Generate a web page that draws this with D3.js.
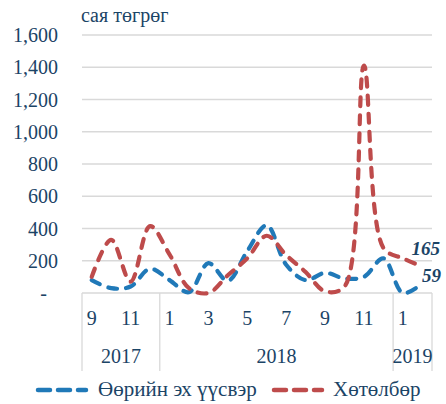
<!DOCTYPE html>
<html>
<head>
<meta charset="utf-8">
<script src="https://cdn.jsdelivr.net/npm/d3@7"></script>
<style>
  body { margin: 0; background: #fff; }
  text { font-family: 'Liberation Serif', 'Times New Roman', serif; fill: #1b4466; }
</style>
</head>
<body>
<svg id="chart" width="446" height="404"></svg>
<script>
// months Sep 2017 .. Feb 2019
const months = ['9', '10', '11', '12', '1', '2', '3', '4', '5', '6', '7', '8', '9', '10', '11', '12', '1', '2'];
const years = [
  { label: '2017', from: 0, to: 4 },
  { label: '2018', from: 4, to: 16 },
  { label: '2019', from: 16, to: 18 },
];
const ownSource = [80, 30, 40, 150, 80, 5, 185, 75, 260, 420, 175, 80, 125, 90, 100, 215, 0, 59];
const program = [100, 330, 70, 415, 240, 30, 0, 110, 215, 355, 235, 130, 10, 40, 1410, 280, 215, 165];
const yTicks = [0, 200, 400, 600, 800, 1000, 1200, 1400, 1600];
const seriesNames = ['Өөрийн эх үүсвэр', 'Хөтөлбөр'];
const colors = ['#2079b8', '#be4b4b'];

const svg = d3.select('#chart');
const plotL = 82, plotR = 432, plotT = 35, plotB = 293;

const x = d3.scaleBand().domain(d3.range(months.length)).range([plotL, plotR]);
const cx = i => x(i) + x.bandwidth() / 2;
const y = d3.scaleLinear().domain([0, 1600]).range([plotB, plotT]);

// unit title
svg.append('text')
    .attr('x', 81).attr('y', 22)
    .style('font-size', '20px')
    .text('сая төгрөг');

// gridlines
svg.append('g').selectAll('line')
  .data(yTicks)
  .enter().append('line')
    .attr('x1', plotL).attr('x2', plotR)
    .attr('y1', d => y(d)).attr('y2', d => y(d))
    .attr('stroke', '#d9d9d9').attr('stroke-width', 1.3);

// y labels
const fmt = d3.format(',');
svg.append('g').selectAll('text')
  .data(yTicks)
  .enter().append('text')
    .attr('x', d => d === 0 ? 47 : 58)
    .attr('y', d => y(d))
    .attr('dy', '0.35em')
    .attr('text-anchor', 'end')
    .style('font-size', '20px')
    .text(d => d === 0 ? '-' : fmt(d));

// category axis: separators between years
const sepX = [plotL].concat(years.map(g => plotL + g.to * x.bandwidth()));
svg.append('g').selectAll('line')
  .data(sepX)
  .enter().append('line')
    .attr('x1', d => d).attr('x2', d => d)
    .attr('y1', plotB).attr('y2', 371)
    .attr('stroke', '#d9d9d9').attr('stroke-width', 1.3);

svg.append('g').selectAll('text')
  .data(months.map((m, i) => ({ m, i })).filter(d => d.i % 2 === 0))
  .enter().append('text')
    .attr('x', d => cx(d.i))
    .attr('y', 325)
    .attr('text-anchor', 'middle')
    .style('font-size', '20px')
    .text(d => d.m);

svg.append('g').selectAll('text')
  .data(years)
  .enter().append('text')
    .attr('x', g => plotL + (g.from + g.to) / 2 * x.bandwidth())
    .attr('y', 363)
    .attr('text-anchor', 'middle')
    .style('font-size', '20px')
    .text(g => g.label);

// lines
const line = d3.line()
    .x((d, i) => cx(i))
    .y(d => y(d))
    .curve(d3.curveCatmullRom.alpha(0.5));

[ownSource, program].forEach((s, k) => {
  svg.append('path')
      .datum(s)
      .attr('d', line)
      .attr('fill', 'none')
      .attr('stroke', colors[k])
      .attr('stroke-width', 4.2)
      .attr('stroke-linecap', 'round')
      .attr('stroke-dasharray', '9 9');
});

// end labels
const last = months.length - 1;
svg.append('text')
    .attr('x', 440).attr('y', 255)
    .attr('text-anchor', 'end')
    .style('font-size', '19px').style('font-weight', 'bold').style('font-style', 'italic')
    .text(program[last]);
svg.append('text')
    .attr('x', 441).attr('y', 282)
    .attr('text-anchor', 'end')
    .style('font-size', '19px').style('font-weight', 'bold').style('font-style', 'italic')
    .text(ownSource[last]);

// legend
const legendPos = [{ x: 36, tx: 98 }, { x: 272, tx: 333 }];
const legend = svg.append('g').selectAll('g')
  .data(seriesNames)
  .enter().append('g');
legend.append('line')
    .attr('x1', (d, i) => legendPos[i].x + 2).attr('x2', (d, i) => legendPos[i].x + 50)
    .attr('y1', 390).attr('y2', 390)
    .attr('stroke', (d, i) => colors[i])
    .attr('stroke-width', 4.5)
    .attr('stroke-linecap', 'round')
    .attr('stroke-dasharray', '12 8');
legend.append('text')
    .attr('x', (d, i) => legendPos[i].tx)
    .attr('y', 396)
    .style('font-size', '21px')
    .text(d => d);
</script>
</body>
</html>
